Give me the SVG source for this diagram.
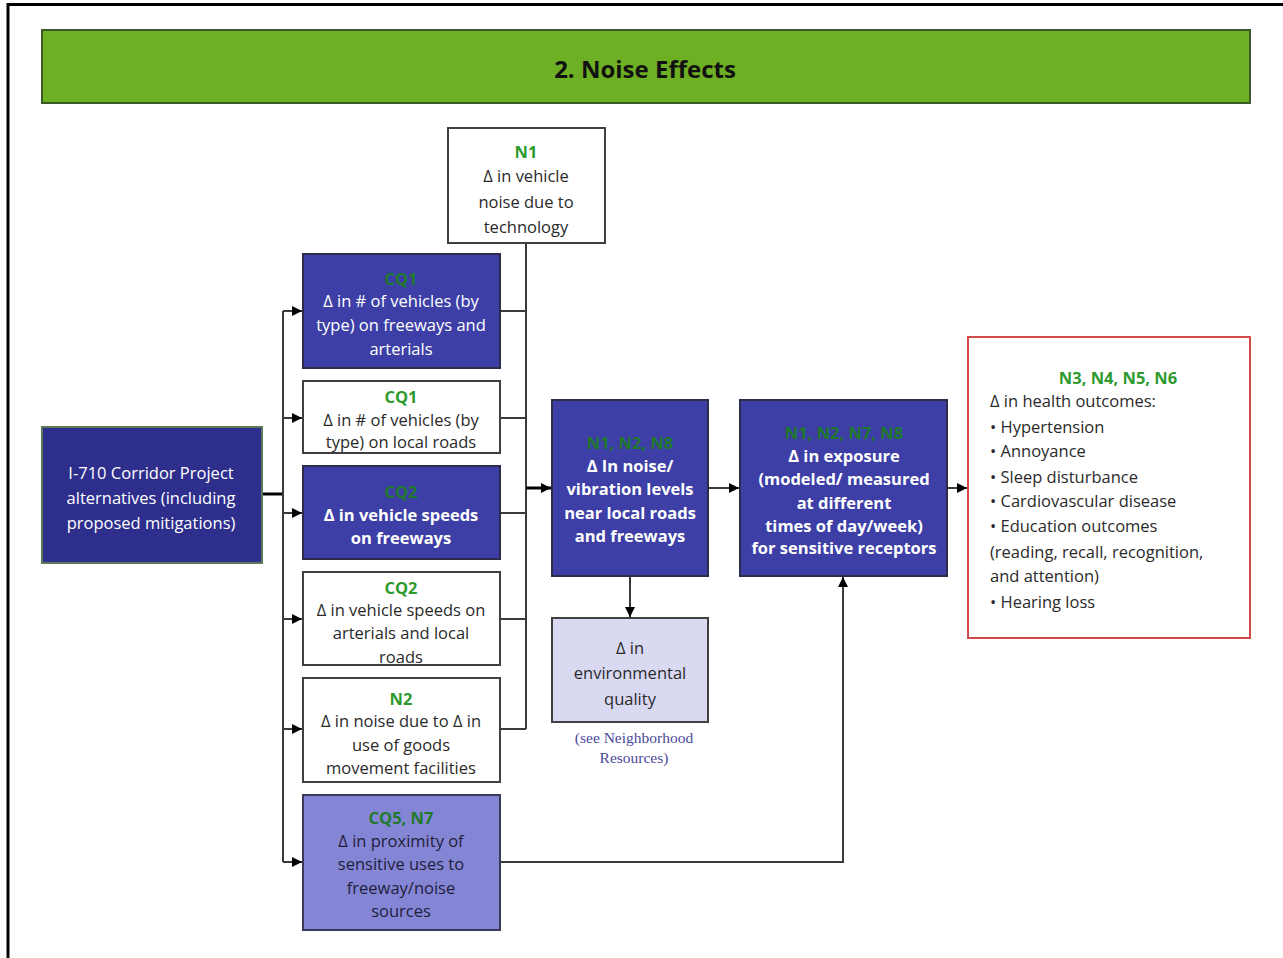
<svg xmlns="http://www.w3.org/2000/svg" width="1283" height="958" viewBox="0 0 1283 958">
<defs>
<style>
.t{font-family:"Open Sans","Noto Sans","Liberation Sans",sans-serif;font-size:16.5px;text-anchor:middle}
.w{fill:#ffffff}
.d{fill:#2a2a2a}
.b{font-weight:bold}
.g{fill:#2e9a2e;font-weight:bold}
.gd{fill:#1f7a2a;font-weight:bold}
.white{fill:#ffffff;stroke:#404040;stroke-width:2}
.dark{fill:#3d3fa6;stroke:#2c2c4a;stroke-width:2}
.mid{fill:#8585d6;stroke:#3a3a5a;stroke-width:2}
.light{fill:#d9d9f2;stroke:#404040;stroke-width:2}
.c{fill:none;stroke:#3a3a3a;stroke-width:2}
.k{fill:none;stroke:#000000;stroke-width:3}
</style>
<marker id="ah" viewBox="0 0 10 10" refX="10" refY="5" markerWidth="10" markerHeight="10" orient="auto" markerUnits="userSpaceOnUse">
<path d="M0,0 L10,5 L0,10 z" fill="#000"/>
</marker>
</defs>
<rect width="1283" height="958" fill="#ffffff"/>
<path d="M8,958 V4.5 H1283" fill="none" stroke="#000" stroke-width="3"/>

<g id="title">
<rect x="42" y="30" width="1208" height="73" fill="#6eb023" stroke="#3d5a2a" stroke-width="2"/>
<text x="645" y="78" font-family="'Open Sans','Noto Sans','Liberation Sans',sans-serif" font-size="24" font-weight="bold" text-anchor="middle" fill="#111">2. Noise Effects</text>
</g>

<g id="connectors">
<path class="k" d="M262,494 H283"/>
<path class="c" d="M283,311 V862"/>
<path class="c" d="M283,311 H302" marker-end="url(#ah)"/>
<path class="c" d="M283,418 H302" marker-end="url(#ah)"/>
<path class="c" d="M283,513 H302" marker-end="url(#ah)"/>
<path class="c" d="M283,619 H302" marker-end="url(#ah)"/>
<path class="c" d="M283,729 H302" marker-end="url(#ah)"/>
<path class="c" d="M283,862 H302" marker-end="url(#ah)"/>
<path class="c" d="M526,243 V729"/>
<path class="c" d="M500,311 H526 M500,418 H526 M500,513 H526 M500,619 H526 M500,729 H526"/>
<path class="k" d="M526,488 H551" marker-end="url(#ah)"/>
<path class="c" d="M708,488 H739" marker-end="url(#ah)"/>
<path class="c" d="M947,488 H967" marker-end="url(#ah)"/>
<path class="c" d="M630,576 V617" marker-end="url(#ah)"/>
<path class="c" d="M500,862 H843 V577" marker-end="url(#ah)"/>
</g>

<g id="n1">
<rect class="white" x="448" y="128" width="157" height="115"/>
<text class="t g" x="526" y="158">N1</text>
<text class="t d" x="526" y="182">Δ in vehicle</text>
<text class="t d" x="526" y="208">noise due to</text>
<text class="t d" x="526" y="233">technology</text>
</g>

<g id="i710">
<rect x="42" y="427" width="220" height="136" fill="#2e2e8c" stroke="#5a7a5a" stroke-width="2"/>
<text class="t w" x="151" y="479" font-size="18">I-710 Corridor Project</text>
<text class="t w" x="151" y="504" font-size="18">alternatives (including</text>
<text class="t w" x="151" y="529" font-size="18">proposed mitigations)</text>
</g>

<g id="cq1a">
<rect class="dark" x="303" y="254" width="197" height="114"/>
<text class="t gd" x="401" y="285">CQ1</text>
<text class="t w" x="401" y="307">Δ in # of vehicles (by</text>
<text class="t w" x="401" y="331">type) on freeways and</text>
<text class="t w" x="401" y="355">arterials</text>
</g>

<g id="cq1b">
<rect class="white" x="303" y="381" width="197" height="72"/>
<text class="t g" x="401" y="403">CQ1</text>
<text class="t d" x="401" y="426">Δ in # of vehicles (by</text>
<text class="t d" x="401" y="448">type) on local roads</text>
</g>

<g id="cq2a">
<rect class="dark" x="303" y="466" width="197" height="93"/>
<text class="t gd" x="401" y="498">CQ2</text>
<text class="t w b" x="401" y="521">Δ in vehicle speeds</text>
<text class="t w b" x="401" y="544">on freeways</text>
</g>

<g id="cq2b">
<rect class="white" x="303" y="572" width="197" height="93"/>
<text class="t g" x="401" y="594">CQ2</text>
<text class="t d" x="401" y="616">Δ in vehicle speeds on</text>
<text class="t d" x="401" y="639">arterials and local</text>
<text class="t d" x="401" y="663">roads</text>
</g>

<g id="n2">
<rect class="white" x="303" y="678" width="197" height="104"/>
<text class="t g" x="401" y="705">N2</text>
<text class="t d" x="401" y="727">Δ in noise due to Δ in</text>
<text class="t d" x="401" y="751">use of goods</text>
<text class="t d" x="401" y="774">movement facilities</text>
</g>

<g id="cq5">
<rect class="mid" x="303" y="795" width="197" height="135"/>
<text class="t gd" x="401" y="824">CQ5, N7</text>
<text class="t" x="401" y="847" fill="#1e1e3a">Δ in proximity of</text>
<text class="t" x="401" y="870" fill="#1e1e3a">sensitive uses to</text>
<text class="t" x="401" y="894" fill="#1e1e3a">freeway/noise</text>
<text class="t" x="401" y="917" fill="#1e1e3a">sources</text>
</g>

<g id="noise">
<rect class="dark" x="552" y="400" width="156" height="176"/>
<text class="t gd" x="630" y="449">N1, N2, N8</text>
<text class="t w b" x="630" y="472">Δ In noise/</text>
<text class="t w b" x="630" y="495">vibration levels</text>
<text class="t w b" x="630" y="519">near local roads</text>
<text class="t w b" x="630" y="542">and freeways</text>
</g>

<g id="env">
<rect class="light" x="552" y="618" width="156" height="104"/>
<text class="t d" x="630" y="654" font-size="17.5">Δ in</text>
<text class="t d" x="630" y="679" font-size="17.5">environmental</text>
<text class="t d" x="630" y="705" font-size="17.5">quality</text>
<text x="634" y="743" font-family="'Liberation Serif',serif" font-size="15.5" text-anchor="middle" fill="#4a4a9a">(see Neighborhood</text>
<text x="634" y="763" font-family="'Liberation Serif',serif" font-size="15.5" text-anchor="middle" fill="#4a4a9a">Resources)</text>
</g>

<g id="exposure">
<rect class="dark" x="740" y="400" width="207" height="176"/>
<text class="t gd" x="844" y="439">N1, N2, N7, N8</text>
<text class="t w b" x="844" y="462">Δ in exposure</text>
<text class="t w b" x="844" y="485">(modeled/ measured</text>
<text class="t w b" x="844" y="509">at different</text>
<text class="t w b" x="844" y="532">times of day/week)</text>
<text class="t w b" x="844" y="554">for sensitive receptors</text>
</g>

<g id="health">
<rect x="968" y="337" width="282" height="301" fill="#ffffff" stroke="#d24a4a" stroke-width="2"/>
<text class="t g" x="1118" y="384">N3, N4, N5, N6</text>
<g font-family="'Open Sans','Noto Sans','Liberation Sans',sans-serif" font-size="16.5" fill="#2a2a2a">
<text x="990" y="407">Δ in health outcomes:</text>
<text x="990" y="433">• Hypertension</text>
<text x="990" y="457">• Annoyance</text>
<text x="990" y="483">• Sleep disturbance</text>
<text x="990" y="507">• Cardiovascular disease</text>
<text x="990" y="532">• Education outcomes</text>
<text x="990" y="558">(reading, recall, recognition,</text>
<text x="990" y="582">and attention)</text>
<text x="990" y="608">• Hearing loss</text>
</g>
</g>
</svg>
